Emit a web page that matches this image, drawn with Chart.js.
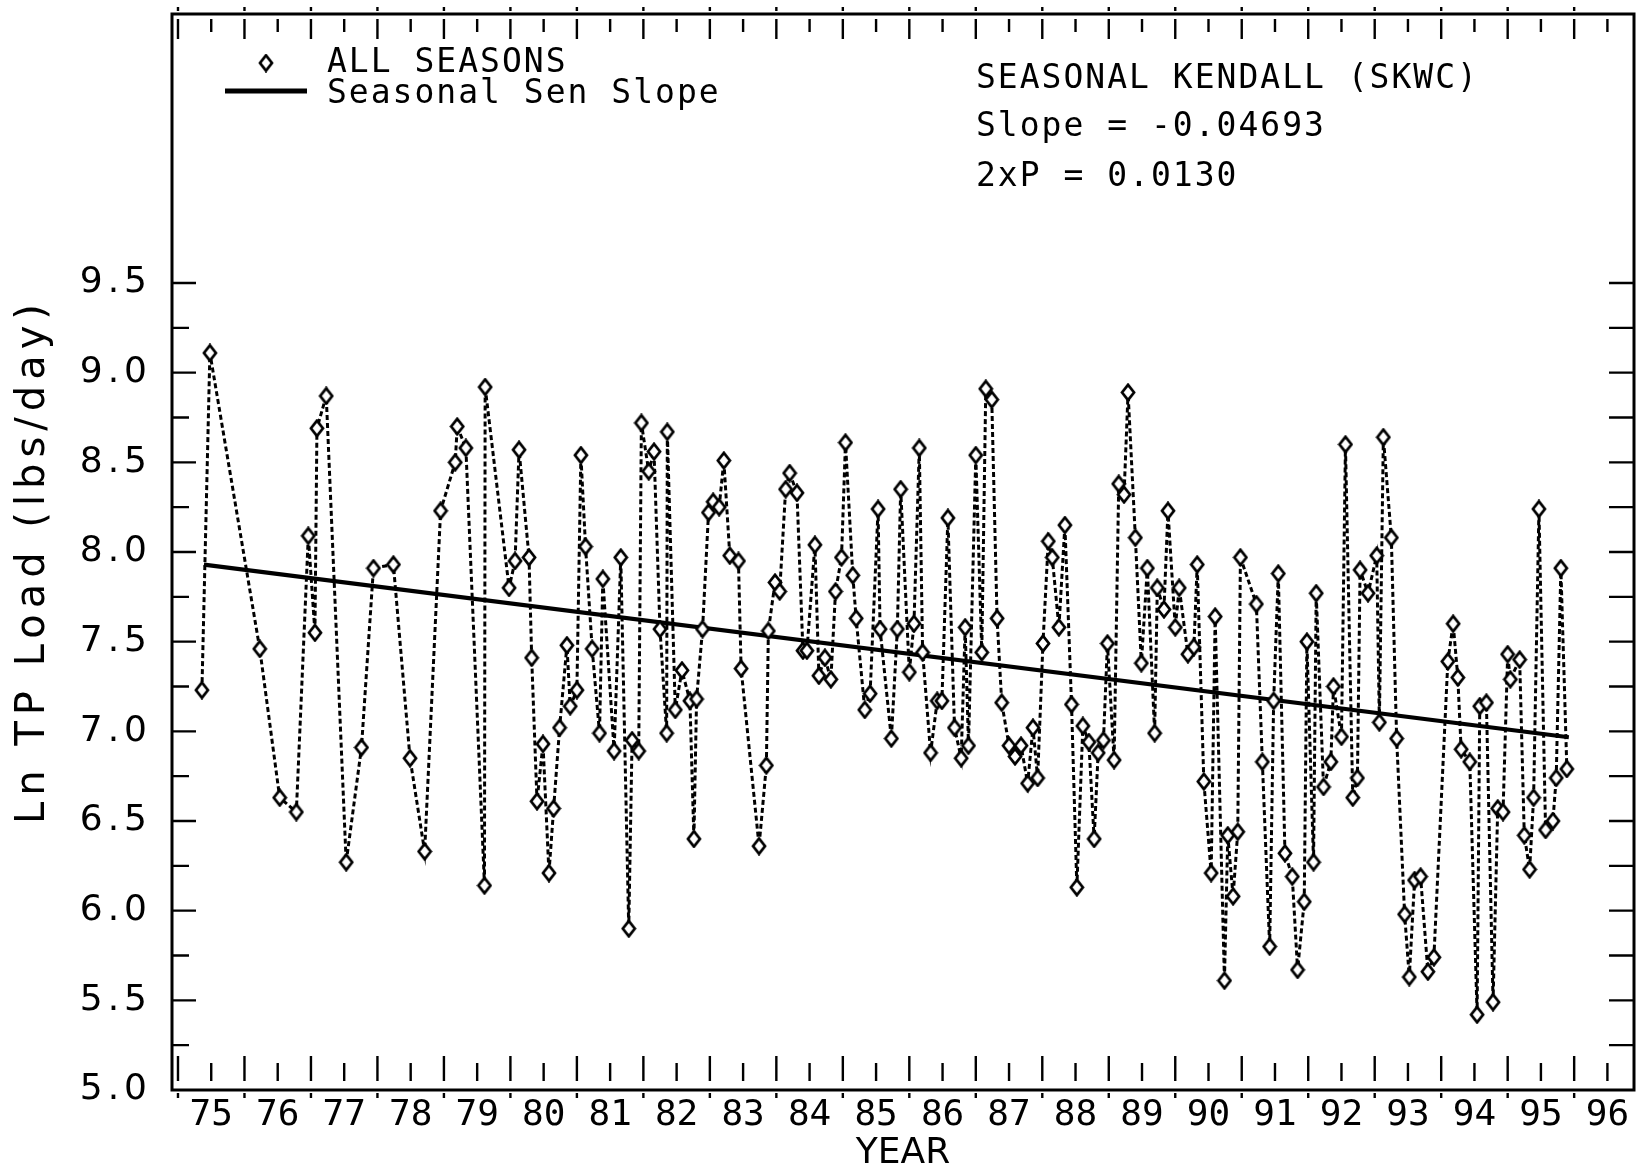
<!DOCTYPE html>
<html lang="en">
<head>
<meta charset="UTF-8">
<title>Ln TP Load - Seasonal Kendall</title>
<script src="https://cdn.jsdelivr.net/npm/chart.js"></script>
<style>
    html, body { margin: 0; padding: 0; background: #fff; }
    #wrap { width: 1644px; height: 1167px; }
</style>
</head>
<body>
<div id="wrap"><canvas id="chart" width="1644" height="1167"></canvas></div>
<script>
    // sample dates (decimal years) and Ln TP load
    var years = [
        1975.36, 1975.48,
        1976.23, 1976.53, 1976.78, 1976.96,
        1977.06, 1977.09, 1977.23, 1977.53, 1977.76, 1977.94,
        1978.24, 1978.49, 1978.71, 1978.95,
        1979.17, 1979.20, 1979.33, 1979.61, 1979.62, 1979.98,
        1980.07, 1980.13, 1980.28, 1980.32, 1980.40, 1980.49, 1980.58, 1980.65, 1980.74, 1980.85, 1980.90,
        1981.00, 1981.06, 1981.13, 1981.23, 1981.34, 1981.39, 1981.56, 1981.66, 1981.78, 1981.83, 1981.93, 1981.97,
        1982.08, 1982.16, 1982.25, 1982.35, 1982.36, 1982.48, 1982.58, 1982.70, 1982.76, 1982.80, 1982.89, 1982.98,
        1983.05, 1983.14, 1983.21, 1983.30, 1983.43, 1983.47, 1983.74, 1983.85, 1983.88, 1983.98,
        1984.05, 1984.14, 1984.20, 1984.31, 1984.40, 1984.46, 1984.58, 1984.64, 1984.73, 1984.82, 1984.89, 1984.98,
        1985.04, 1985.15, 1985.20, 1985.33, 1985.41, 1985.53, 1985.56, 1985.73, 1985.82, 1985.87,
        1986.00, 1986.07, 1986.15, 1986.20, 1986.32, 1986.42, 1986.49, 1986.58, 1986.68, 1986.78, 1986.84, 1986.89,
        1987.00, 1987.09, 1987.15, 1987.24, 1987.32, 1987.39, 1987.50, 1987.59, 1987.68, 1987.78, 1987.86, 1987.93,
        1988.01, 1988.09, 1988.15, 1988.25, 1988.34, 1988.44, 1988.52, 1988.61, 1988.70, 1988.78, 1988.84, 1988.92, 1988.98,
        1989.08, 1989.15, 1989.23, 1989.29, 1989.40, 1989.49, 1989.58, 1989.69, 1989.73, 1989.83, 1989.89,
        1990.00, 1990.06, 1990.19, 1990.28, 1990.33, 1990.43, 1990.54, 1990.60, 1990.74, 1990.79, 1990.87, 1990.94, 1990.98,
        1991.22, 1991.31, 1991.42, 1991.48, 1991.55, 1991.65, 1991.76, 1991.84, 1991.94, 1991.98,
        1992.08, 1992.12, 1992.23, 1992.34, 1992.38, 1992.50, 1992.56, 1992.67, 1992.74, 1992.78, 1992.90,
        1993.03, 1993.07, 1993.13, 1993.25, 1993.33, 1993.45, 1993.52, 1993.60, 1993.69, 1993.80, 1993.89,
        1994.10, 1994.18, 1994.25, 1994.30, 1994.43, 1994.54, 1994.58, 1994.68, 1994.78, 1994.85, 1994.93,
        1995.00, 1995.04, 1995.18, 1995.25, 1995.33, 1995.39, 1995.47, 1995.57, 1995.68, 1995.73, 1995.80, 1995.89
    ];
    var lnLoad = [
        7.23, 9.11,
        7.46, 6.63, 6.55, 8.09,
        7.55, 8.69, 8.87, 6.27, 6.91, 7.91,
        7.93, 6.85, 6.33, 8.23,
        8.50, 8.70, 8.58, 6.14, 8.92, 7.80,
        7.95, 8.57, 7.97, 7.41, 6.61, 6.93, 6.21, 6.57, 7.02, 7.48, 7.14,
        7.23, 8.54, 8.03, 7.46, 6.99, 7.85, 6.89, 7.97, 5.90, 6.95, 6.89, 8.72,
        8.45, 8.56, 7.57, 6.99, 8.67, 7.12, 7.34, 7.17, 6.40, 7.18, 7.57, 8.22,
        8.28, 8.25, 8.51, 7.98, 7.95, 7.35, 6.36, 6.81, 7.56, 7.83,
        7.78, 8.35, 8.44, 8.33, 7.45, 7.45, 8.04, 7.31, 7.41, 7.29, 7.78, 7.97,
        8.61, 7.87, 7.63, 7.12, 7.21, 8.24, 7.57, 6.96, 7.57, 8.35,
        7.33, 7.60, 8.58, 7.44, 6.88, 7.17, 7.17, 8.19, 7.02, 6.85, 7.58, 6.92,
        8.54, 7.44, 8.91, 8.85, 7.63, 7.16, 6.92, 6.86, 6.92, 6.71, 7.02, 6.74,
        7.49, 8.06, 7.97, 7.58, 8.15, 7.15, 6.13, 7.03, 6.94, 6.40, 6.88, 6.95, 7.49,
        6.84, 8.38, 8.32, 8.89, 8.08, 7.38, 7.91, 6.99, 7.80, 7.68, 8.23,
        7.58, 7.80, 7.43, 7.47, 7.93, 6.72, 6.21, 7.64, 5.61, 6.42, 6.08, 6.44, 7.97,
        7.71, 6.83, 5.80, 7.17, 7.88, 6.32, 6.19, 5.67, 6.05, 7.50,
        6.27, 7.77, 6.69, 6.83, 7.25, 6.97, 8.60, 6.63, 6.74, 7.90, 7.77,
        7.98, 7.05, 8.64, 8.08, 6.96, 5.98, 5.63, 6.17, 6.19, 5.66, 5.74,
        7.39, 7.60, 7.30, 6.90, 6.83, 5.42, 7.14, 7.16, 5.49, 6.57, 6.55,
        7.43, 7.29, 7.40, 6.42, 6.23, 6.63, 8.24, 6.45, 6.50, 6.74, 7.91, 6.79
    ];

    // seasonal Sen slope line, end points
    var senYears = [1975.39, 1995.92];
    var senValues = [7.93, 6.967];

    // axis labels
    var xTickYears = [1975.5, 1976.5, 1977.5, 1978.5, 1979.5, 1980.5, 1981.5, 1982.5, 1983.5, 1984.5, 1985.5,
                      1986.5, 1987.5, 1988.5, 1989.5, 1990.5, 1991.5, 1992.5, 1993.5, 1994.5, 1995.5, 1996.5];
    var xLabels = ['75', '76', '77', '78', '79', '80', '81', '82', '83', '84', '85',
                   '86', '87', '88', '89', '90', '91', '92', '93', '94', '95', '96'];
    var yTicks = [5.0, 5.5, 6.0, 6.5, 7.0, 7.5, 8.0, 8.5, 9.0, 9.5];

    var statLines = ['SEASONAL KENDALL (SKWC)', 'Slope = -0.04693', '2xP = 0.0130'];

    // open diamond marker, a bit taller than wide like the plotter symbol
    function makeDiamond() {
        var c = document.createElement('canvas');
        c.width = 16; c.height = 19;
        var g = c.getContext('2d');
        g.fillStyle = '#fff';
        g.strokeStyle = '#000';
        g.lineWidth = 2.7;
        g.beginPath();
        g.moveTo(8, 1.8);
        g.lineTo(14, 9.5);
        g.lineTo(8, 17.2);
        g.lineTo(2, 9.5);
        g.closePath();
        g.fill();
        g.stroke();
        return c;
    }
    var diamond = makeDiamond();

    var points = years.map(function (x, i) { return { x: x, y: lnLoad[i] }; });
    var senPoints = senYears.map(function (x, i) { return { x: x, y: senValues[i] }; });

    var frame = {
        id: 'frame',
        afterDraw: function (chart) {
            var ctx = chart.ctx, a = chart.chartArea;
            var xs = chart.scales.x, ys = chart.scales.y;
            ctx.save();
            ctx.strokeStyle = '#000';
            ctx.fillStyle = '#000';

            // tick marks, all drawn inward
            ctx.lineWidth = 2.4;
            ctx.beginPath();
            for (var yr = 1975; yr <= 1996.5; yr += 0.5) {
                var px = xs.getPixelForValue(yr);
                if (px < a.left + 3 || px > a.right - 3) continue;
                var major = yr % 1 === 0;
                ctx.moveTo(px, a.bottom - (major ? 34 : 27));
                ctx.lineTo(px, a.bottom - 9);
                ctx.moveTo(px, a.top + 5);
                ctx.lineTo(px, a.top + (major ? 25 : 18));
                if (major) {
                    ctx.moveTo(px, a.bottom + 3);
                    ctx.lineTo(px, a.bottom + 8);
                    ctx.moveTo(px, a.top - 3);
                    ctx.lineTo(px, a.top - 7);
                }
            }
            for (var v = 5.25; v <= 9.501; v += 0.25) {
                var py = ys.getPixelForValue(v);
                var maj = Math.abs(v * 2 - Math.round(v * 2)) < 1e-6;
                ctx.moveTo(a.left, py);
                ctx.lineTo(a.left + (maj ? 24 : 17), py);
                ctx.moveTo(a.right, py);
                ctx.lineTo(a.right - 25, py);
            }
            ctx.stroke();

            // frame
            ctx.lineWidth = 3;
            ctx.strokeRect(a.left, a.top, a.right - a.left, a.bottom - a.top);

            // y tick labels
            ctx.font = '36px "DejaVu Sans"';
            ctx.letterSpacing = '5px';
            ctx.textAlign = 'right';
            ctx.textBaseline = 'middle';
            yTicks.forEach(function (t) {
                ctx.fillText(t.toFixed(1), 152, ys.getPixelForValue(t));
            });

            // y title
            ctx.save();
            ctx.font = '40px "DejaVu Sans"';
            ctx.letterSpacing = '6px';
            ctx.textAlign = 'center';
            ctx.translate(34, 561);
            ctx.rotate(-Math.PI / 2);
            ctx.fillText('Ln TP Load (lbs/day)', 0, 0);
            ctx.restore();

            // legend
            ctx.font = '33px "DejaVu Sans Mono"';
            ctx.letterSpacing = '2px';
            ctx.textAlign = 'left';
            ctx.textBaseline = 'alphabetic';
            ctx.drawImage(diamond, 266 - 8, 63 - 9.5);
            ctx.fillText('ALL SEASONS', 327, 72);
            ctx.lineWidth = 5;
            ctx.beginPath();
            ctx.moveTo(225, 91);
            ctx.lineTo(307, 91);
            ctx.stroke();
            ctx.fillText('Seasonal Sen Slope', 327, 103);

            // test statistics
            var base = [88, 136, 186];
            statLines.forEach(function (s, i) {
                ctx.fillText(s, 976, base[i]);
            });
            ctx.restore();
        }
    };

    new Chart(document.getElementById('chart'), {
        type: 'scatter',
        data: {
            datasets: [{
                label: 'ALL SEASONS',
                data: points,
                showLine: true,
                borderColor: '#000',
                borderWidth: 3,
                borderDash: [5, 3],
                pointStyle: diamond,
                pointRadius: 7,
                tension: 0
            }, {
                label: 'Seasonal Sen Slope',
                data: senPoints,
                showLine: true,
                borderColor: '#000',
                borderWidth: 4.2,
                pointRadius: 0
            }]
        },
        options: {
            responsive: false,
            animation: false,
            layout: { padding: { top: 14, right: 6, left: 0, bottom: 0 } },
            plugins: { legend: { display: false }, tooltip: { enabled: false } },
            scales: {
                x: {
                    type: 'linear',
                    min: 1974.91,
                    max: 1996.90,
                    grid: { display: false, drawTicks: false },
                    border: { display: false },
                    afterBuildTicks: function (scale) {
                        scale.ticks = xTickYears.map(function (v) { return { value: v }; });
                    },
                    afterFit: function (scale) { scale.height = 77; },
                    ticks: {
                        autoSkip: false,
                        maxRotation: 0,
                        padding: 6,
                        color: '#000',
                        font: { family: 'DejaVu Sans Mono', size: 36, lineHeight: 1.1 },
                        callback: function (v, i) { return xLabels[i]; }
                    },
                    title: {
                        display: true,
                        text: 'YEAR',
                        color: '#000',
                        padding: { top: 0, bottom: -5 },
                        font: { family: 'DejaVu Sans', size: 36, lineHeight: 1 }
                    }
                },
                y: {
                    type: 'linear',
                    min: 5,
                    max: 11,
                    grid: { display: false, drawTicks: false },
                    border: { display: false },
                    afterBuildTicks: function (scale) {
                        scale.ticks = yTicks.map(function (v) { return { value: v }; });
                    },
                    afterFit: function (scale) { scale.width = 172; },
                    ticks: { display: false }
                }
            }
        },
        plugins: [frame]
    });
</script>
</body>
</html>
